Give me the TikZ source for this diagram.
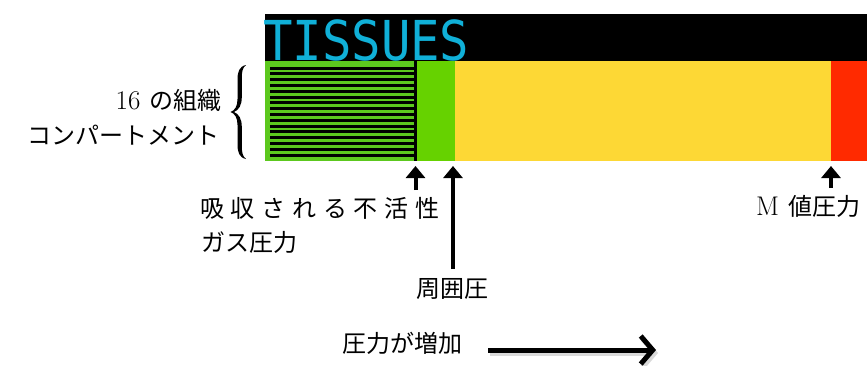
\documentclass[tikz,border=0pt]{standalone}
\usepackage{fontspec}
\usetikzlibrary{arrows.meta}
\newfontfamily\jp{Noto Sans CJK JP}
\newfontfamily\jpsp[LetterSpace=28]{Noto Sans CJK JP}
\newfontfamily\mono{DejaVu Sans Mono}
\definecolor{tgreen}{HTML}{66D200}
\definecolor{hgreen}{HTML}{5CC81E}
\definecolor{tyellow}{HTML}{FDD835}
\definecolor{tred}{HTML}{FF2A00}
\definecolor{tcyan}{HTML}{10B0D8}
\newcommand{\latn}[1]{{\fontsize{27}{30}\selectfont\rmfamily #1}}
\tikzset{
  lbl/.style={inner sep=0pt, font=\fontsize{24}{28}\selectfont\jp},
  uparrow/.style={line width=4pt, -{Triangle[length=12pt,width=19pt]}},
}
\begin{document}
\begin{tikzpicture}[x=1pt,y=-1pt]
\useasboundingbox (0,0) rectangle (867,365);
% black header
\fill[black] (265,14) rectangle (867,61);
\node[anchor=west, inner sep=0pt, text=tcyan, xscale=0.89, font=\fontsize{55}{55}\selectfont\mono] (title) at (263,40) {TISSUES};
% bar segments
\fill[hgreen] (265,61) rectangle (416,161);
\foreach \i in {0,...,15} {
  \fill[black] (270,{66.5+\i*5.8}) rectangle (415,{69.5+\i*5.8});
}
\fill[black] (414,61) rectangle (416.5,161);
\fill[tgreen] (416.5,61) rectangle (455,161);
\fill[tyellow] (455,61) rectangle (831,161);
\fill[tred] (831,61) rectangle (867,161);
% target coordinates
\coordinate (t1) at (415.5,166);
\coordinate (t2) at (453,166);
\coordinate (t3) at (831,166);
\coordinate (s1) at (415.5,190);
\coordinate (s2) at (453,269);
\coordinate (s3) at (831,188);
\draw[uparrow] (s1) -- (t1);
\draw[uparrow] (s2) -- (t2);
\draw[uparrow] (s3) -- (t3);
% left labels
\node[lbl, anchor=east] (n16) at (222,100) {\latn{16}\, の組織};
\node[lbl, anchor=east] (comp) at (220,135) {コンパートメント};
% brace
\fill[black] (246,65) .. controls (239,66.5) and (237.5,72) .. (237.5,80) -- (237.5,99)
  .. controls (237.5,106) and (235,110.5) .. (230.5,112)
  .. controls (235,113.5) and (237.5,118) .. (237.5,125) -- (237.5,144)
  .. controls (237.5,152) and (239,157.5) .. (246,159)
  .. controls (242.5,156.5) and (241.8,152) .. (241.8,146) -- (241.8,127)
  .. controls (241.8,119) and (239,114) .. (234,112)
  .. controls (239,110) and (241.8,105) .. (241.8,97) -- (241.8,78)
  .. controls (241.8,72) and (242.5,67.5) .. (246,65) -- cycle;
% bottom labels
\node[lbl, anchor=west, font=\fontsize{24}{28}\selectfont\jpsp] (abs1) at (200,208) {吸収される不活性};
\node[lbl, anchor=west] (abs2) at (201,242) {ガス圧力};
\node[lbl] (amb) at (452,289) {周囲圧};
\node[lbl, anchor=west] (mval) at (756,206) {\latn{M}\, 値圧力};
\node[lbl, anchor=west] (inc) at (342,343) {圧力が増加};
\coordinate (a0) at (488,350);
\coordinate (a1) at (656,350);
\draw[line width=5pt, gray!50, opacity=0.6, -{Straight Barb[length=12pt,width=28pt]}] ([shift={(2,3)}]a0) -- ([shift={(2,3)}]a1);
\draw[line width=5pt, -{Straight Barb[length=12pt,width=28pt]}] (a0) -- (a1);
\end{tikzpicture}
\end{document}
